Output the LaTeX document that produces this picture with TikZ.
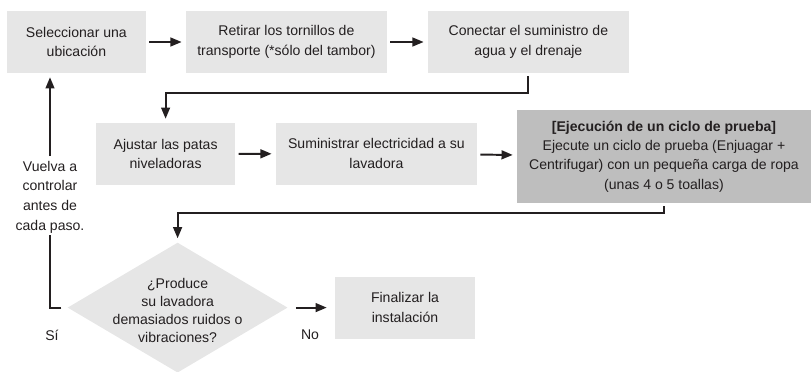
\documentclass[tikz,border=0pt]{standalone}
\usepackage{fontspec}
\setmainfont{Liberation Sans}
\usepackage{tikz}
\usetikzlibrary{arrows.meta, shapes.geometric, calc, positioning}
\definecolor{Paper}{HTML}{E6E6E6}
\definecolor{Shade}{HTML}{BEBEBE}
\definecolor{Ink}  {HTML}{231F20}

\begin{document}
\begin{tikzpicture}[font=\fontsize{10}{14}\selectfont, text=Ink,
    stepbox/.style={fill=Paper, minimum height=1.55cm, align=center, inner sep=2pt},
    decision/.style={diamond, fill=Paper, minimum width=5.5cm, minimum height=3.25cm, inner sep=0pt},
    flow/.style={draw=Ink, line width=1.4pt, -{Triangle[length=2.8mm, width=2.2mm]},
                 shorten <=0.08cm, shorten >=0.1cm},
    link/.style={draw=Ink, line width=1.4pt}]
  \useasboundingbox (0,0) rectangle (20.275,-9.3);
  % Top row
  \node[stepbox, minimum width=3.475cm] (place) at (1.91,-1.05)
    {Seleccionar una\\ubicación};
  \node[stepbox, minimum width=5.025cm] (screws) at (7.16,-1.05)
    {Retirar los tornillos de\\transporte (*sólo del tambor)};
  \node[stepbox, minimum width=5.025cm] (water) at (13.21,-1.05)
    {Conectar el suministro de\\agua y el drenaje};
  % Middle row
  \node[stepbox, minimum width=3.475cm] (legs) at (4.14,-3.85)
    {Ajustar las patas\\niveladoras};
  \node[stepbox, minimum width=5.025cm] (power) at (9.41,-3.84)
    {Suministrar electricidad a su\\lavadora};
  \node[stepbox, fill=Shade, minimum width=7.35cm, minimum height=2.325cm,
        font=\fontsize{10}{13.8}\selectfont] (test) at (16.6,-3.91)
    {\textbf{[Ejecución de un ciclo de prueba]}\\Ejecute un ciclo de prueba (Enjuagar +\\
     Centrifugar) con un pequeña carga de ropa\\(unas 4 o 5 toallas)};
  % Bottom row
  \node[decision] (check) at (4.44,-7.69) {};
  \node[align=center, font=\fontsize{10}{12.8}\selectfont] (ask) at (4.44,-7.75)
    {¿Produce\\su lavadora\\demasiados ruidos o\\vibraciones?};
  \node[stepbox, minimum width=3.5cm] (finish) at (10.125,-7.69)
    {Finalizar la\\instalación};
  \node (yes) at (1.3,-8.375) {Sí};
  \node (no) at (7.75,-8.375) {No};
  \node[align=center, inner sep=1pt] (back) at (1.25,-4.925)
    {Vuelva a\\controlar\\antes de\\cada paso.};
  % Connectors
  \draw[flow] (place) -- (screws);
  \draw[flow] (screws) -- (water);
  \draw[flow] (water.south) -- ++(0,-0.5) -| (legs.north);
  \draw[flow] (legs) -- (power);
  \draw[flow] (power) -- (test);
  \draw[flow] (test.south) -- ++(0,-0.25) -| (check.north);
  \draw[flow, shorten <=0.2cm, shorten >=0.2cm] (check.east) -- (finish.west);
  \draw[link, shorten <=0.15cm] (check.west) -| (back.south);
  \draw[flow] (back.north) -- (back.north |- place.south);
\end{tikzpicture}
\end{document}
